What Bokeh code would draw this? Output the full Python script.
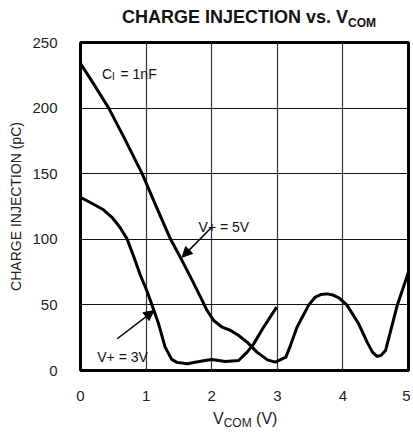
from bokeh.plotting import figure
from bokeh.models import Label, Arrow, NormalHead, FixedTicker, Div
from bokeh.layouts import column
from bokeh.embed import file_html
from bokeh.resources import INLINE

# Data
v5_x = [0, 0.2, 0.43, 0.69, 0.84, 0.94, 1.15, 1.37, 1.52, 1.68, 1.83, 1.93, 2.03, 2.16, 2.29,
        2.41, 2.54, 2.69, 2.85, 2.97, 3.13, 3.2, 3.3, 3.48, 3.58, 3.67, 3.76, 3.85, 3.94, 4.06,
        4.24, 4.37, 4.45, 4.52, 4.58, 4.65, 4.83, 5.0]
v5_y = [234, 218.5, 200, 175, 160, 150, 125.5, 100.4, 86.4, 71, 55.9, 45.7, 38.1, 33, 30.5,
        26.7, 21.6, 14, 8.1, 6.4, 10.2, 19, 33, 50, 56, 58, 58.4, 57.5, 55.4, 50,
        35.6, 21.6, 14, 10.7, 11.5, 15.2, 50, 75]

v3_x = [0, 0.17, 0.35, 0.48, 0.6, 0.71, 0.81, 0.91, 1.01, 1.1, 1.19, 1.29, 1.39, 1.47, 1.63,
        1.83, 2.0, 2.21, 2.41, 2.54, 2.64, 2.79, 2.99]
v3_y = [132, 127.5, 122.5, 116.8, 109.2, 100.3, 87, 73, 61, 48.5, 35.6, 17.8, 8.5, 6.2, 5.1,
        7.1, 8.4, 6.9, 7.6, 14, 20.3, 33, 48.3]

x_ticks = [0, 1, 2, 3, 4, 5]
y_ticks = [0, 50, 100, 150, 200, 250]

FONT = "Liberation Sans"

title_div = Div(
    text=('<div style="margin:0;padding:8px 0 0 122px;font-family:\'Liberation Sans\',Arial,sans-serif;'
          'font-weight:bold;font-size:18px;line-height:18px;color:#111;white-space:nowrap">'
          'CHARGE INJECTION vs. V<span style="font-size:12px;position:relative;top:4px">COM</span></div>'),
    width=413, height=32, margin=0)

p = figure(width=410, height=373, x_range=(0, 5), y_range=(0, 250),
           output_backend="svg", toolbar_location=None,
           min_border_left=80, min_border_right=2, min_border_top=10, min_border_bottom=35)

p.outline_line_color = "black"
p.outline_line_width = 3
p.background_fill_color = "white"
p.border_fill_color = "white"

p.xaxis.ticker = FixedTicker(ticks=x_ticks)
p.yaxis.ticker = FixedTicker(ticks=y_ticks)
for ax in (p.xaxis, p.yaxis):
    ax.axis_line_color = None
    ax.major_tick_line_color = None
    ax.minor_tick_line_color = None
    ax.major_label_text_font = FONT
    ax.major_label_text_font_size = "15px"
    ax.major_label_text_color = "#222222"
p.xaxis.major_label_standoff = 14
p.yaxis.major_label_standoff = 17
p.yaxis.axis_label = "CHARGE INJECTION (pC)"
p.yaxis.axis_label_text_font = FONT
p.yaxis.axis_label_text_font_size = "14px"
p.yaxis.axis_label_text_font_style = "normal"
p.yaxis.axis_label_text_color = "#222222"
p.yaxis.axis_label_standoff = 5

p.xgrid.grid_line_color = "#333333"
p.ygrid.grid_line_color = "#111111"
p.xgrid.grid_line_width = 1.2
p.ygrid.grid_line_width = 1

p.line(v5_x, v5_y, line_color="black", line_width=3, line_join="round")
p.line(v3_x, v3_y, line_color="black", line_width=3, line_join="round")

def lab(x, y, t, size, align="left"):
    p.add_layout(Label(x=x, y=y, text=t, text_font=FONT, text_font_size=size,
                       text_align=align, text_baseline="alphabetic", text_color="#111111"))

# annotations
lab(0.48, 226.1, "C", "14px", align="right")
lab(0.48, 224.4, "I", "10px")
lab(0.61, 226.1, "= 1nF", "14px")
lab(1.80, 109.2, "V+ = 5V", "14px")
lab(0.255, 10.1, "V+ = 3V", "14px")

p.add_layout(Arrow(end=NormalHead(size=10, fill_color="black", line_color="black"),
                   x_start=2.0, y_start=109.2, x_end=1.55, y_end=86.4,
                   line_color="black", line_width=1.5))
p.add_layout(Arrow(end=NormalHead(size=10, fill_color="black", line_color="black"),
                   x_start=0.56, y_start=24.2, x_end=1.12, y_end=45.7,
                   line_color="black", line_width=1.5))

xlabel_div = Div(
    text=('<div style="margin:0;padding:6px 0 0 213px;font-family:\'Liberation Sans\',Arial,sans-serif;'
          'font-size:16px;line-height:16px;color:#222;white-space:nowrap">'
          'V<span style="font-size:12px;position:relative;top:3px">COM</span> (V)</div>'),
    width=413, height=28, margin=0)

layout = column(title_div, p, xlabel_div, spacing=0)

open("out.html", "w").write(file_html(layout, INLINE))
